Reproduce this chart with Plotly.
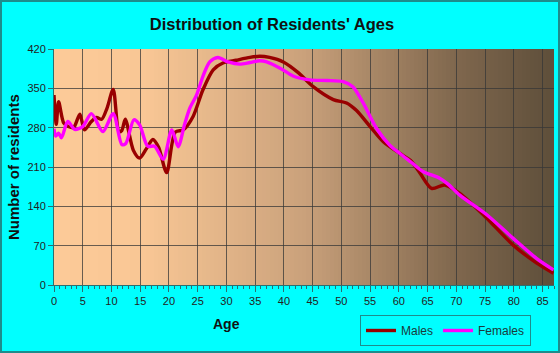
import plotly.graph_objects as go

male_ages = [0, 0.4, 0.8, 1.7, 2.5, 3.4, 4.5, 5.3, 6.5, 7.4, 8.3, 9.2, 10.3, 11.3, 11.8, 12.4,
             13.8, 14.9, 16.1, 17.2, 18.2, 19.6, 21.1, 22.5, 24.2, 25.9, 27.7, 29.4, 31.7, 34.1,
             35.8, 37.5, 39.9, 42.5, 45.1, 48.6, 50.9, 52.6, 55, 57.3, 60.2, 62, 63.7, 65.7, 68,
             70.6, 75, 79.9, 84, 86.9]
male_vals = [338, 286, 326, 288, 282, 280, 304, 276, 291, 298, 295, 314, 348, 273, 275, 295,
             240, 226, 243, 259, 245, 200, 272, 276, 300, 347, 383, 395, 400, 405,
             407, 405, 397, 378, 353, 330, 324, 311, 282, 255, 234, 222, 199, 172, 178,
             163, 122, 71, 39, 21]

female_ages = [0, 0.3, 0.8, 1.3, 2.4, 3.6, 5, 6.5, 8.5, 10.3, 11.8, 12.5, 13.9, 14.9, 16.3,
               17.5, 19, 20.5, 21.6, 22.7, 23.6, 24.8, 25.9, 27.1, 28.5, 30.3, 32.3, 34.1, 35.8,
               37, 39.5, 41.6, 44.5, 47.5, 50.3, 52, 53.8, 56.1, 58.4, 60.2, 62.2, 64.2, 67.1,
               68.5, 70.6, 75.3, 79.9, 84, 86.9]
female_vals = [278, 265, 270, 262, 291, 277, 282, 305, 273, 305, 250, 252, 294, 285, 247,
               247, 224, 276, 246, 285, 314, 338, 371, 397, 405, 397, 393, 396, 399,
               397, 385, 372, 365, 364, 362, 353, 324, 279, 249, 234, 218, 202, 190,
               180, 160, 125, 83, 47, 27]

x_ticks = list(range(0, 90, 5))
y_ticks = [0, 70, 140, 210, 280, 350, 420]

W, H = 560, 353
L, R, T, B = 54, 6, 49, 68
PW, PH = W - L - R, H - T - B
FONT = "Liberation Sans, Arial, sans-serif"

fig = go.Figure()
fig.add_trace(go.Scatter(x=male_ages, y=male_vals, mode="lines", name="Males",
                         line=dict(color="#990000", width=3.4, shape="spline", smoothing=0.8)))
fig.add_trace(go.Scatter(x=female_ages, y=female_vals, mode="lines", name="Females",
                         line=dict(color="#FF00FF", width=3.4, shape="spline", smoothing=0.8)))

# gradient background
stops = [(0.0, (252, 202, 152)), (0.18, (249, 199, 149)), (0.5, (202, 161, 123)),
         (0.8, (128, 104, 78)), (1.0, (94, 78, 58))]

def col(t):
    for (a, ca), (b, cb) in zip(stops[:-1], stops[1:]):
        if a <= t <= b:
            f = (t - a) / (b - a) if b > a else 0
            return "rgb(%d,%d,%d)" % tuple(round(ca[i] + (cb[i] - ca[i]) * f) for i in range(3))
    return "rgb(%d,%d,%d)" % stops[-1][1]

shapes = []
N = 125
for i in range(N):
    x0 = i / N
    x1 = (i + 1) / N + 0.002
    shapes.append(dict(type="rect", xref="x domain", yref="y domain", x0=x0, x1=min(x1, 1),
                       y0=0, y1=1, fillcolor=col((i + 0.5) / N), line=dict(width=0),
                       layer="below"))
# outer frame
shapes.append(dict(type="rect", xref="paper", yref="paper",
                   x0=-(L - 1) / PW, x1=1 + (R - 1) / PW,
                   y0=-(B - 1) / PH, y1=1 + (T - 1) / PH,
                   line=dict(color="#1E8C8C", width=2), fillcolor="rgba(0,0,0,0)", layer="above"))

fig.update_layout(
    width=W, height=H,
    margin=dict(l=L, r=R, t=T, b=B, pad=0),
    paper_bgcolor="#00FFFF", plot_bgcolor="rgba(0,0,0,0)",
    shapes=shapes,
    showlegend=True,
    legend=dict(orientation="h", x=(360 - L) / PW, y=-(315 - (H - B)) / PH,
                xanchor="left", yanchor="top", bgcolor="rgba(0,0,0,0)",
                bordercolor="#1E8C8C", borderwidth=1,
                font=dict(family=FONT, size=12, color="#1a3a3a"),
                itemwidth=30, tracegroupgap=0),
    title=dict(text="<b>Distribution of Residents' Ages</b>", x=272 / W, xref="container",
               xanchor="center", y=1 - 24 / H, yref="container", yanchor="middle",
               font=dict(family=FONT, size=16.5, color="#111")),
    annotations=[
        dict(text="<b>Number of residents</b>", xref="paper", yref="paper",
             x=(13 - L) / PW, y=0.5, textangle=-90, showarrow=False,
             xanchor="center", yanchor="middle",
             font=dict(family=FONT, size=15, color="#111")),
        dict(text="<b>Age</b>", xref="paper", yref="paper",
             x=(226 - L) / PW, y=-(324 - (H - B)) / PH, showarrow=False,
             xanchor="center", yanchor="middle",
             font=dict(family=FONT, size=14, color="#111")),
    ],
)

fig.update_xaxes(range=[0, 87], tickvals=x_ticks, ticktext=[str(v) for v in x_ticks],
                 showgrid=True, gridcolor="rgba(55,55,55,0.75)", gridwidth=1,
                 showline=True, linecolor="#2A7070", linewidth=1,
                 ticks="outside", ticklen=6, tickcolor="#2A7070",
                 minor=dict(ticks="outside", dtick=1, tick0=0, ticklen=3, tickcolor="#2A7070",
                            showgrid=False),
                 tickfont=dict(family=FONT, size=11, color="#222"),
                 zeroline=False, fixedrange=True)
fig.update_yaxes(range=[0, 420], tickvals=y_ticks, ticktext=[str(v) for v in y_ticks],
                 showgrid=True, gridcolor="rgba(55,55,55,0.75)", gridwidth=1,
                 showline=True, linecolor="#2A7070", linewidth=1,
                 ticks="outside", ticklen=5, tickcolor="#2A7070",
                 tickfont=dict(family=FONT, size=11, color="#222"),
                 zeroline=False, fixedrange=True)

fig.write_html("out.html")
